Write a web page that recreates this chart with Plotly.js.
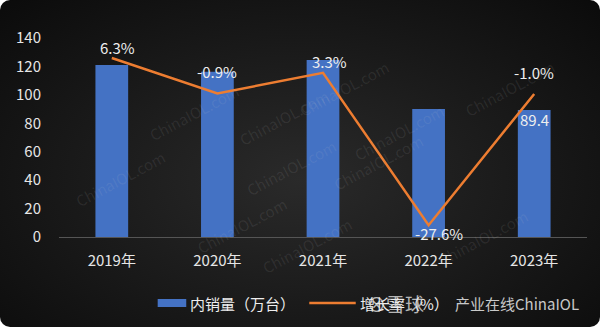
<!DOCTYPE html>
<html>
<head>
<meta charset="utf-8">
<script src="https://cdn.plot.ly/plotly-3.0.1.min.js"></script>
<style>
html,body{margin:0;padding:0;background:#ffffff;width:600px;height:327px;overflow:hidden;}
#chart{width:600px;height:327px;border-radius:10px;overflow:hidden;
background:radial-gradient(ellipse at 50% 55%, #2a2a2a 0%, #1c1c1c 45%, #0b0b0b 100%);}
</style>
</head>
<body>
<div id="chart"></div>
<script>
// ---- data ----
const categories = ['2019年','2020年','2021年','2022年','2023年'];
const salesName = '内销量（万台）';
const salesValues = [121.0, 116.3, 124.5, 90.0, 89.4];
const growthName = '增长率（%）';
const growthValues = [6.3, -0.9, 3.3, -27.6, -1.0];
const growthLabels = ['6.3%', '-0.9%', '3.3%', '-27.6%', '-1.0%'];
const yTickVals = [0, 20, 40, 60, 80, 100, 120, 140];

// ---- styling / label placement ----
const BLUE = '#4472C4', ORANGE = '#ED7D31', TXT = '#eeeeee';
const FONT = '"Noto Sans CJK SC", "Noto Sans", sans-serif';
const growthLabelShift = [[6, 11], [0, 22], [6, 11], [10, -8], [0, 22]];

const traces = [
  {type: 'bar', x: categories, y: salesValues, name: salesName,
   marker: {color: BLUE}, yaxis: 'y', hoverinfo: 'none'},
  {type: 'scatter', mode: 'lines', x: categories, y: growthValues, name: growthName,
   line: {color: ORANGE, width: 2.5}, yaxis: 'y2', hoverinfo: 'none'}
];

const annotations = [];

// watermarks (drawn first, beneath other texts)
const wm = [
  [0.16, 0.80, 'ChinaIOL.com'], [0.54, 0.92, 'ChinaIOL.com'], [0.33, 0.60, 'ChinaIOL.com'],
  [0.44, 0.35, 'ChinaIOL.com'], [0.02, 0.12, 'ChinaIOL.com'], [0.74, 0.70, 'ChinaIOL.com'],
  [0.95, 0.92, 'ChinaIOL.com'], [0.25, -0.12, 'ChinaIOL.com'], [0.47, -0.22, 'ChinaIOL.com'],
  [0.90, -0.18, 'ChinaIOL.com'], [0.70, 0.20, 'ChinaIOL.com']
];
wm.forEach(w => annotations.push({xref: 'paper', yref: 'paper', x: w[0], y: w[1], text: w[2],
  showarrow: false, textangle: -28, font: {family: FONT, size: 15, color: 'rgba(200,200,200,0.10)'}}));

growthValues.forEach((v, i) => {
  annotations.push({x: categories[i], y: v, xref: 'x', yref: 'y2', text: growthLabels[i],
    showarrow: false, xshift: growthLabelShift[i][0], yshift: growthLabelShift[i][1],
    font: {family: FONT, size: 15, color: TXT}});
});
// last bar value label inside end
const last = salesValues.length - 1;
annotations.push({x: categories[last], y: salesValues[last], xref: 'x', yref: 'y',
  text: String(salesValues[last]), showarrow: false, yshift: -10,
  font: {family: FONT, size: 15, color: TXT}});

// custom legend
const shapes = [
  {type: 'rect', xref: 'paper', yref: 'paper', x0: 0.1869, x1: 0.2410, y0: -0.352, y1: -0.312,
   fillcolor: BLUE, line: {width: 0}},
  {type: 'line', xref: 'paper', yref: 'paper', x0: 0.4740, x1: 0.5620, y0: -0.332, y1: -0.332,
   line: {color: ORANGE, width: 2.5}}
];
annotations.push({xref: 'paper', yref: 'paper', x: 0.2450, y: -0.332, xanchor: 'left', yanchor: 'middle',
  text: salesName, showarrow: false, font: {family: FONT, size: 15, color: TXT}});
annotations.push({xref: 'paper', yref: 'paper', x: 0.5660, y: -0.332, xanchor: 'left', yanchor: 'middle',
  text: growthName, showarrow: false, font: {family: FONT, size: 15, color: TXT}});

// source watermark bottom-right
annotations.push({xref: 'paper', yref: 'paper', x: 0.580, y: -0.332, xanchor: 'left', yanchor: 'middle',
  text: '⊗雪球', showarrow: false,
  font: {family: FONT, size: 19, color: 'rgba(235,235,235,0.75)'}});
annotations.push({xref: 'paper', yref: 'paper', x: 0.988, y: -0.332, xanchor: 'right', yanchor: 'middle',
  text: '产业在线ChinaIOL', showarrow: false,
  font: {family: FONT, size: 15, color: 'rgba(235,235,235,0.85)'}});

const layout = {
  width: 600, height: 327,
  margin: {l: 59, r: 13, t: 38, b: 90},
  paper_bgcolor: 'rgba(0,0,0,0)', plot_bgcolor: 'rgba(0,0,0,0)',
  showlegend: false,
  bargap: 0.69,
  font: {family: FONT, color: TXT},
  xaxis: {type: 'category', showgrid: false, zeroline: false,
    showline: true, linecolor: '#555555', linewidth: 1,
    ticks: '', ticklabelstandoff: 10,
    tickfont: {family: FONT, size: 15, color: '#e6e6e6'}, fixedrange: true},
  yaxis: {range: [0, 140], tickvals: yTickVals, showgrid: false, zeroline: false,
    showline: false, ticks: '', ticklabelstandoff: 17,
    tickfont: {family: FONT, size: 15, color: '#e6e6e6'}, fixedrange: true},
  yaxis2: {range: [-30, 10.36], overlaying: 'y', side: 'right', visible: false,
    showgrid: false, zeroline: false, fixedrange: true},
  shapes: shapes,
  annotations: annotations
};

Plotly.newPlot('chart', traces, layout, {displayModeBar: false, staticPlot: true});
</script>
</body>
</html>
